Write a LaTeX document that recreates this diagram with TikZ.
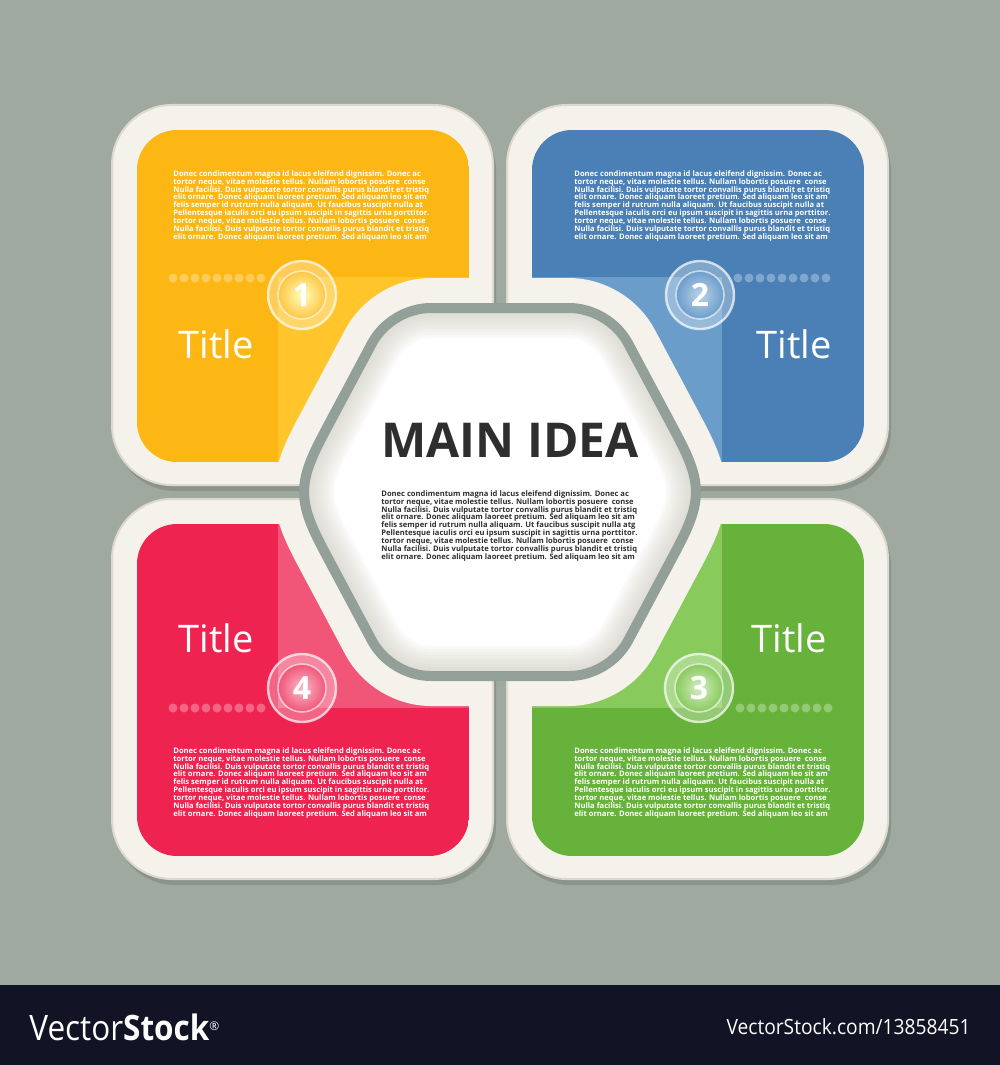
\documentclass[tikz,border=0pt]{standalone}
\usepackage{fontspec}
\setmainfont{Open Sans}
\setlength{\lineskiplimit}{-3pt}

\definecolor{bgGray}{HTML}{9FA99F}
\definecolor{barDark}{HTML}{121324}
\definecolor{creamW}{HTML}{F4F2EA}
\definecolor{frameEdge}{HTML}{DCDACE}
\definecolor{ringGray}{HTML}{93A099}
\definecolor{innerShade}{HTML}{CFCDC0}
\definecolor{mainInk}{HTML}{2E2E2E}
\definecolor{pYellow}{HTML}{FDB714}
\definecolor{pYellowL}{HTML}{FFC52A}
\definecolor{pBlue}{HTML}{4A80B5}
\definecolor{pBlueL}{HTML}{6B9DCB}
\definecolor{pGreen}{HTML}{66B23A}
\definecolor{pGreenL}{HTML}{88CA5C}
\definecolor{pRed}{HTML}{EF2350}
\definecolor{pRedL}{HTML}{F15578}

% rounded hexagon, wider rounding at the two side corners
\newcommand{\hexpath}{(500,308) -- (569,308) .. controls (593,308) and (616.6,322.1) .. (628,343.2)
    -- (674.5,430.4) .. controls (703.1,483.4) and (703.1,500.6) .. (674.5,553.6)
    -- (628,640.8) .. controls (616.6,661.9) and (593,676) .. (569,676)
    -- (431,676) .. controls (407,676) and (383.4,661.9) .. (372,640.8)
    -- (325.5,553.6) .. controls (296.9,500.6) and (296.9,483.4) .. (325.5,430.4)
    -- (372,343.2) .. controls (383.4,322.1) and (407,308) .. (431,308) -- cycle}
\newcommand{\loremtext}[1]{Donec condimentum magna id lacus eleifend dignissim. Donec ac\\
tortor neque, vitae molestie tellus. Nullam lobortis posuere\ \ conse\\
Nulla facilisi. Duis vulputate tortor convallis purus blandit et tristiq\\
elit ornare. Donec aliquam laoreet pretium. Sed aliquam leo sit am\\
felis semper id rutrum nulla aliquam. Ut faucibus suscipit nulla #1\\
Pellentesque iaculis orci eu ipsum suscipit in sagittis urna porttitor.\\
tortor neque, vitae molestie tellus. Nullam lobortis posuere\ \ conse\\
Nulla facilisi. Duis vulputate tortor convallis purus blandit et tristiq\\
elit ornare. Donec aliquam laoreet pretium. Sed aliquam leo sit am}

\begin{document}
\begin{tikzpicture}[x=0.5pt,y=-0.5pt,
    hexline/.style={line join=round},
    bodytext/.style={anchor=north west, inner sep=0pt, align=left, text=white,
        font=\bfseries\fontsize{3.8}{3.95}\selectfont},
    titletext/.style={inner sep=0pt, text=white, font=\fontsize{19}{19}\selectfont},
    numring/.style={circle, minimum size=34pt, inner sep=0pt, fill=white,
        fill opacity=0.3, draw=white, draw opacity=0.7, line width=1.2pt},
    numball/.style={circle, minimum size=24pt, inner sep=0pt, text=white,
        draw=white, draw opacity=0.6, line width=0.8pt,
        font=\bfseries\fontsize{16}{16}\selectfont},
    dotfill/.style={fill=white, fill opacity=0.3}]
    \useasboundingbox (0,0) rectangle (1000,1065);
    \fill[bgGray] (0,0) rectangle (1000,985);
    \fill[barDark] (0,985) rectangle (1000,1065);

    % shadows under the four frames
    \foreach \ox/\oy in {112/105,507/105,507/499,112/499}
        \fill[black, opacity=0.12, rounded corners=30pt] (\ox+3,\oy+6) rectangle ++(381,380);

    % the four panels
    \foreach \ox/\oy/\lx/\ly/\lxx/\lyy/\pcol/\plite in {
        112/105/278/277/469/462/pYellow/pYellowL,
        507/105/532/277/722/462/pBlue/pBlueL,
        507/499/532/524/722/708/pGreen/pGreenL,
        112/499/278/524/469/708/pRed/pRedL}{
        \begin{scope}
            \clip[rounded corners=30pt] (\ox,\oy) rectangle ++(381,380);
            \fill[creamW] (\ox,\oy) rectangle ++(381,380);
            \begin{scope}
                \clip[rounded corners=20pt] (\ox+25,\oy+25) rectangle ++(332,332);
                \fill[\pcol] (\ox+25,\oy+25) rectangle ++(332,332);
                \fill[\plite] (\lx,\ly) rectangle (\lxx,\lyy);
            \end{scope}
            \filldraw[creamW, line width=30pt, hexline] \hexpath;
        \end{scope}
        \draw[frameEdge, line width=1pt, rounded corners=30pt] (\ox,\oy) rectangle ++(381,380);
    }

    % centre hexagon
    \fill[white] \hexpath;
    \begin{scope}
        \clip \hexpath;
        \foreach \w in {30,27,...,6}
            \draw[innerShade, line width=\w pt, opacity=0.1, hexline] \hexpath;
    \end{scope}
    \draw[ringGray, line width=5pt, hexline] \hexpath;

    % dotted rows
    \foreach \k in {0,...,8} {
        \fill[dotfill] (173+11*\k,278) circle (4.5);
        \fill[dotfill] (738+11*\k,278) circle (4.5);
        \fill[dotfill] (740+11*\k,708) circle (4.5);
        \fill[dotfill] (173+11*\k,708) circle (4.5);
    }

    % numbered balls
    \node[numring] (ring1) at (302,295) {};
    \node[numball, inner color=yellow!25!white, outer color=pYellow!80!white] (ball1) at (ring1) {1};
    \node[numring] (ring2) at (700,295) {};
    \node[numball, inner color=pBlueL!45!white, outer color=pBlueL] (ball2) at (ring2) {2};
    \node[numring] (ring3) at (699,688) {};
    \node[numball, inner color=pGreenL!35!white, outer color=pGreenL] (ball3) at (ring3) {3};
    \node[numring] (ring4) at (302,688) {};
    \node[numball, inner color=pRedL!40!white, outer color=pRedL] (ball4) at (ring4) {4};

    % titles
    \node[titletext, anchor=west] (title1) at (178,344) {Title};
    \node[titletext, anchor=east] (title2) at (832,344) {Title};
    \node[titletext, anchor=east] (title3) at (827,638) {Title};
    \node[titletext, anchor=west] (title4) at (178,638) {Title};

    % body texts
    \node[bodytext] (text1) at (173,170) {\loremtext{at}};
    \node[bodytext] (text2) at (574,170) {\loremtext{at}};
    \node[bodytext] (text3) at (574,747) {\loremtext{at}};
    \node[bodytext] (text4) at (173,747) {\loremtext{at}};

    \node[inner sep=0pt, text=mainInk, font=\bfseries\fontsize{24}{24}\selectfont] (main) at (510,440) {MAIN IDEA};
    \node[bodytext, text=mainInk] (maintext) at (381,490) {\loremtext{atg}};

    % bottom bar
    \node[anchor=west, inner sep=0pt, text=white] (brand) at (29,1027)
        {\scalebox{0.9}[1]{\fontsize{17.5}{17.5}\selectfont Vector\textbf{Stock}}\raisebox{5pt}{\fontsize{6}{6}\selectfont ®}};
    \node[anchor=east, inner sep=0pt, text=white] (link) at (971,1027)
        {\scalebox{0.915}[1]{\fontsize{10.5}{10.5}\selectfont VectorStock.com/13858451}};
\end{tikzpicture}
\end{document}
